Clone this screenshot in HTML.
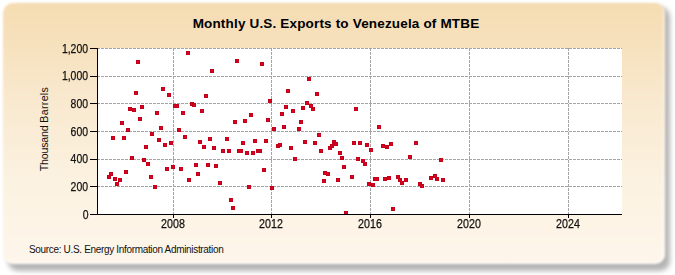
<!DOCTYPE html>
<html><head><meta charset="utf-8"><style>
html,body{margin:0;padding:0;background:#fff;}
body{width:675px;height:275px;position:relative;overflow:hidden;font-family:"Liberation Sans",sans-serif;}
.panel{position:absolute;left:3px;top:3px;width:661.5px;height:261px;border-radius:10px;
background:linear-gradient(to bottom,#f5dcb1 0%,#f9e9cf 38%,#fcf2e1 68%,#fef6eb 100%);
box-shadow:inset -2px -2px 2px rgba(255,255,255,0.5);filter:blur(0.8px);}
.shadow{position:absolute;left:8px;top:7px;width:662px;height:263.5px;border-radius:10px;background:rgba(0,0,0,0.29);filter:blur(2.5px);}
svg{position:absolute;left:0;top:0;}
.title{position:absolute;left:-1.5px;width:675px;top:16.2px;text-align:center;font-size:13.5px;font-weight:bold;letter-spacing:0.17px;color:#000;line-height:16px;}
.yl{position:absolute;right:586.8px;-webkit-text-stroke:0.25px #111;font-size:12px;color:#111;line-height:14px;text-align:right;white-space:nowrap;transform:scaleX(0.87);transform-origin:100% 50%;}
.xl{position:absolute;top:216.5px;-webkit-text-stroke:0.25px #111;width:40px;text-align:center;font-size:12px;color:#111;line-height:14px;transform:scaleX(0.89);}
.ytitle{position:absolute;left:44px;top:129.2px;transform:translate(-50%,-50%) rotate(-90deg);font-size:10.6px;color:#111;white-space:nowrap;line-height:12px;}
.src{position:absolute;left:29px;top:243.7px;font-size:10px;letter-spacing:-0.33px;color:#111;white-space:nowrap;line-height:12px;}
</style></head><body>
<div class="shadow"></div>
<div class="panel"></div>
<div class="title">Monthly U.S. Exports to Venezuela of MTBE</div>
<svg width="675" height="275" viewBox="0 0 675 275" shape-rendering="crispEdges">
<rect x="97" y="48" width="525" height="166" fill="#ffffff"/>
<line x1="97" y1="186.5" x2="622" y2="186.5" stroke="#a4a4a4" stroke-width="1" stroke-dasharray="3,1"/>
<line x1="97" y1="159.5" x2="622" y2="159.5" stroke="#a4a4a4" stroke-width="1" stroke-dasharray="3,1"/>
<line x1="97" y1="131.5" x2="622" y2="131.5" stroke="#a4a4a4" stroke-width="1" stroke-dasharray="3,1"/>
<line x1="97" y1="103.5" x2="622" y2="103.5" stroke="#a4a4a4" stroke-width="1" stroke-dasharray="3,1"/>
<line x1="97" y1="76.5" x2="622" y2="76.5" stroke="#a4a4a4" stroke-width="1" stroke-dasharray="3,1"/>
<line x1="97" y1="48.5" x2="622" y2="48.5" stroke="#a4a4a4" stroke-width="1" stroke-dasharray="3,1"/>
<line x1="173.5" y1="48" x2="173.5" y2="214" stroke="#a4a4a4" stroke-width="1" stroke-dasharray="3,1"/>
<line x1="271.5" y1="48" x2="271.5" y2="214" stroke="#a4a4a4" stroke-width="1" stroke-dasharray="3,1"/>
<line x1="370.5" y1="48" x2="370.5" y2="214" stroke="#a4a4a4" stroke-width="1" stroke-dasharray="3,1"/>
<line x1="469.5" y1="48" x2="469.5" y2="214" stroke="#a4a4a4" stroke-width="1" stroke-dasharray="3,1"/>
<line x1="568.5" y1="48" x2="568.5" y2="214" stroke="#a4a4a4" stroke-width="1" stroke-dasharray="3,1"/>
<rect x="136" y="60" width="4" height="4" fill="#c2001a"/><rect x="137" y="61" width="2" height="2" fill="#de0020"/>
<rect x="186" y="51" width="4" height="4" fill="#c2001a"/><rect x="187" y="52" width="2" height="2" fill="#de0020"/>
<rect x="134" y="91" width="4" height="4" fill="#c2001a"/><rect x="135" y="92" width="2" height="2" fill="#de0020"/>
<rect x="161" y="87" width="4" height="4" fill="#c2001a"/><rect x="162" y="88" width="2" height="2" fill="#de0020"/>
<rect x="167" y="93" width="4" height="4" fill="#c2001a"/><rect x="168" y="94" width="2" height="2" fill="#de0020"/>
<rect x="128" y="107" width="4" height="4" fill="#c2001a"/><rect x="129" y="108" width="2" height="2" fill="#de0020"/>
<rect x="132" y="108" width="4" height="4" fill="#c2001a"/><rect x="133" y="109" width="2" height="2" fill="#de0020"/>
<rect x="140" y="105" width="4" height="4" fill="#c2001a"/><rect x="141" y="106" width="2" height="2" fill="#de0020"/>
<rect x="155" y="111" width="4" height="4" fill="#c2001a"/><rect x="156" y="112" width="2" height="2" fill="#de0020"/>
<rect x="173" y="104" width="4" height="4" fill="#c2001a"/><rect x="174" y="105" width="2" height="2" fill="#de0020"/>
<rect x="175" y="104" width="4" height="4" fill="#c2001a"/><rect x="176" y="105" width="2" height="2" fill="#de0020"/>
<rect x="181" y="111" width="4" height="4" fill="#c2001a"/><rect x="182" y="112" width="2" height="2" fill="#de0020"/>
<rect x="120" y="121" width="4" height="4" fill="#c2001a"/><rect x="121" y="122" width="2" height="2" fill="#de0020"/>
<rect x="138" y="117" width="4" height="4" fill="#c2001a"/><rect x="139" y="118" width="2" height="2" fill="#de0020"/>
<rect x="159" y="126" width="4" height="4" fill="#c2001a"/><rect x="160" y="127" width="2" height="2" fill="#de0020"/>
<rect x="126" y="128" width="4" height="4" fill="#c2001a"/><rect x="127" y="129" width="2" height="2" fill="#de0020"/>
<rect x="177" y="128" width="4" height="4" fill="#c2001a"/><rect x="178" y="129" width="2" height="2" fill="#de0020"/>
<rect x="111" y="136" width="4" height="4" fill="#c2001a"/><rect x="112" y="137" width="2" height="2" fill="#de0020"/>
<rect x="122" y="136" width="4" height="4" fill="#c2001a"/><rect x="123" y="137" width="2" height="2" fill="#de0020"/>
<rect x="150" y="132" width="4" height="4" fill="#c2001a"/><rect x="151" y="133" width="2" height="2" fill="#de0020"/>
<rect x="183" y="135" width="4" height="4" fill="#c2001a"/><rect x="184" y="136" width="2" height="2" fill="#de0020"/>
<rect x="157" y="138" width="4" height="4" fill="#c2001a"/><rect x="158" y="139" width="2" height="2" fill="#de0020"/>
<rect x="163" y="143" width="4" height="4" fill="#c2001a"/><rect x="164" y="144" width="2" height="2" fill="#de0020"/>
<rect x="169" y="141" width="4" height="4" fill="#c2001a"/><rect x="170" y="142" width="2" height="2" fill="#de0020"/>
<rect x="144" y="145" width="4" height="4" fill="#c2001a"/><rect x="145" y="146" width="2" height="2" fill="#de0020"/>
<rect x="130" y="156" width="4" height="4" fill="#c2001a"/><rect x="131" y="157" width="2" height="2" fill="#de0020"/>
<rect x="142" y="158" width="4" height="4" fill="#c2001a"/><rect x="143" y="159" width="2" height="2" fill="#de0020"/>
<rect x="146" y="162" width="4" height="4" fill="#c2001a"/><rect x="147" y="163" width="2" height="2" fill="#de0020"/>
<rect x="109" y="172" width="4" height="4" fill="#c2001a"/><rect x="110" y="173" width="2" height="2" fill="#de0020"/>
<rect x="107" y="175" width="4" height="4" fill="#c2001a"/><rect x="108" y="176" width="2" height="2" fill="#de0020"/>
<rect x="113" y="177" width="4" height="4" fill="#c2001a"/><rect x="114" y="178" width="2" height="2" fill="#de0020"/>
<rect x="118" y="178" width="4" height="4" fill="#c2001a"/><rect x="119" y="179" width="2" height="2" fill="#de0020"/>
<rect x="115" y="182" width="4" height="4" fill="#c2001a"/><rect x="116" y="183" width="2" height="2" fill="#de0020"/>
<rect x="124" y="170" width="4" height="4" fill="#c2001a"/><rect x="125" y="171" width="2" height="2" fill="#de0020"/>
<rect x="149" y="175" width="4" height="4" fill="#c2001a"/><rect x="150" y="176" width="2" height="2" fill="#de0020"/>
<rect x="153" y="185" width="4" height="4" fill="#c2001a"/><rect x="154" y="186" width="2" height="2" fill="#de0020"/>
<rect x="165" y="167" width="4" height="4" fill="#c2001a"/><rect x="166" y="168" width="2" height="2" fill="#de0020"/>
<rect x="171" y="165" width="4" height="4" fill="#c2001a"/><rect x="172" y="166" width="2" height="2" fill="#de0020"/>
<rect x="179" y="167" width="4" height="4" fill="#c2001a"/><rect x="180" y="168" width="2" height="2" fill="#de0020"/>
<rect x="187" y="178" width="4" height="4" fill="#c2001a"/><rect x="188" y="179" width="2" height="2" fill="#de0020"/>
<rect x="235" y="59" width="4" height="4" fill="#c2001a"/><rect x="236" y="60" width="2" height="2" fill="#de0020"/>
<rect x="260" y="62" width="4" height="4" fill="#c2001a"/><rect x="261" y="63" width="2" height="2" fill="#de0020"/>
<rect x="210" y="69" width="4" height="4" fill="#c2001a"/><rect x="211" y="70" width="2" height="2" fill="#de0020"/>
<rect x="204" y="94" width="4" height="4" fill="#c2001a"/><rect x="205" y="95" width="2" height="2" fill="#de0020"/>
<rect x="268" y="99" width="4" height="4" fill="#c2001a"/><rect x="269" y="100" width="2" height="2" fill="#de0020"/>
<rect x="190" y="102" width="4" height="4" fill="#c2001a"/><rect x="191" y="103" width="2" height="2" fill="#de0020"/>
<rect x="192" y="103" width="4" height="4" fill="#c2001a"/><rect x="193" y="104" width="2" height="2" fill="#de0020"/>
<rect x="200" y="109" width="4" height="4" fill="#c2001a"/><rect x="201" y="110" width="2" height="2" fill="#de0020"/>
<rect x="233" y="120" width="4" height="4" fill="#c2001a"/><rect x="234" y="121" width="2" height="2" fill="#de0020"/>
<rect x="243" y="119" width="4" height="4" fill="#c2001a"/><rect x="244" y="120" width="2" height="2" fill="#de0020"/>
<rect x="249" y="113" width="4" height="4" fill="#c2001a"/><rect x="250" y="114" width="2" height="2" fill="#de0020"/>
<rect x="266" y="118" width="4" height="4" fill="#c2001a"/><rect x="267" y="119" width="2" height="2" fill="#de0020"/>
<rect x="272" y="127" width="4" height="4" fill="#c2001a"/><rect x="273" y="128" width="2" height="2" fill="#de0020"/>
<rect x="198" y="140" width="4" height="4" fill="#c2001a"/><rect x="199" y="141" width="2" height="2" fill="#de0020"/>
<rect x="208" y="137" width="4" height="4" fill="#c2001a"/><rect x="209" y="138" width="2" height="2" fill="#de0020"/>
<rect x="202" y="145" width="4" height="4" fill="#c2001a"/><rect x="203" y="146" width="2" height="2" fill="#de0020"/>
<rect x="212" y="146" width="4" height="4" fill="#c2001a"/><rect x="213" y="147" width="2" height="2" fill="#de0020"/>
<rect x="225" y="137" width="4" height="4" fill="#c2001a"/><rect x="226" y="138" width="2" height="2" fill="#de0020"/>
<rect x="221" y="149" width="4" height="4" fill="#c2001a"/><rect x="222" y="150" width="2" height="2" fill="#de0020"/>
<rect x="227" y="149" width="4" height="4" fill="#c2001a"/><rect x="228" y="150" width="2" height="2" fill="#de0020"/>
<rect x="237" y="149" width="4" height="4" fill="#c2001a"/><rect x="238" y="150" width="2" height="2" fill="#de0020"/>
<rect x="239" y="149" width="4" height="4" fill="#c2001a"/><rect x="240" y="150" width="2" height="2" fill="#de0020"/>
<rect x="241" y="141" width="4" height="4" fill="#c2001a"/><rect x="242" y="142" width="2" height="2" fill="#de0020"/>
<rect x="245" y="151" width="4" height="4" fill="#c2001a"/><rect x="246" y="152" width="2" height="2" fill="#de0020"/>
<rect x="251" y="151" width="4" height="4" fill="#c2001a"/><rect x="252" y="152" width="2" height="2" fill="#de0020"/>
<rect x="253" y="139" width="4" height="4" fill="#c2001a"/><rect x="254" y="140" width="2" height="2" fill="#de0020"/>
<rect x="256" y="149" width="4" height="4" fill="#c2001a"/><rect x="257" y="150" width="2" height="2" fill="#de0020"/>
<rect x="258" y="149" width="4" height="4" fill="#c2001a"/><rect x="259" y="150" width="2" height="2" fill="#de0020"/>
<rect x="264" y="139" width="4" height="4" fill="#c2001a"/><rect x="265" y="140" width="2" height="2" fill="#de0020"/>
<rect x="194" y="163" width="4" height="4" fill="#c2001a"/><rect x="195" y="164" width="2" height="2" fill="#de0020"/>
<rect x="206" y="163" width="4" height="4" fill="#c2001a"/><rect x="207" y="164" width="2" height="2" fill="#de0020"/>
<rect x="214" y="164" width="4" height="4" fill="#c2001a"/><rect x="215" y="165" width="2" height="2" fill="#de0020"/>
<rect x="196" y="172" width="4" height="4" fill="#c2001a"/><rect x="197" y="173" width="2" height="2" fill="#de0020"/>
<rect x="218" y="181" width="4" height="4" fill="#c2001a"/><rect x="219" y="182" width="2" height="2" fill="#de0020"/>
<rect x="247" y="185" width="4" height="4" fill="#c2001a"/><rect x="248" y="186" width="2" height="2" fill="#de0020"/>
<rect x="262" y="168" width="4" height="4" fill="#c2001a"/><rect x="263" y="169" width="2" height="2" fill="#de0020"/>
<rect x="270" y="186" width="4" height="4" fill="#c2001a"/><rect x="271" y="187" width="2" height="2" fill="#de0020"/>
<rect x="229" y="198" width="4" height="4" fill="#c2001a"/><rect x="230" y="199" width="2" height="2" fill="#de0020"/>
<rect x="231" y="206" width="4" height="4" fill="#c2001a"/><rect x="232" y="207" width="2" height="2" fill="#de0020"/>
<rect x="307" y="77" width="4" height="4" fill="#c2001a"/><rect x="308" y="78" width="2" height="2" fill="#de0020"/>
<rect x="286" y="89" width="4" height="4" fill="#c2001a"/><rect x="287" y="90" width="2" height="2" fill="#de0020"/>
<rect x="315" y="92" width="4" height="4" fill="#c2001a"/><rect x="316" y="93" width="2" height="2" fill="#de0020"/>
<rect x="305" y="101" width="4" height="4" fill="#c2001a"/><rect x="306" y="102" width="2" height="2" fill="#de0020"/>
<rect x="309" y="104" width="4" height="4" fill="#c2001a"/><rect x="310" y="105" width="2" height="2" fill="#de0020"/>
<rect x="311" y="107" width="4" height="4" fill="#c2001a"/><rect x="312" y="108" width="2" height="2" fill="#de0020"/>
<rect x="301" y="106" width="4" height="4" fill="#c2001a"/><rect x="302" y="107" width="2" height="2" fill="#de0020"/>
<rect x="284" y="105" width="4" height="4" fill="#c2001a"/><rect x="285" y="106" width="2" height="2" fill="#de0020"/>
<rect x="291" y="109" width="4" height="4" fill="#c2001a"/><rect x="292" y="110" width="2" height="2" fill="#de0020"/>
<rect x="280" y="112" width="4" height="4" fill="#c2001a"/><rect x="281" y="113" width="2" height="2" fill="#de0020"/>
<rect x="299" y="120" width="4" height="4" fill="#c2001a"/><rect x="300" y="121" width="2" height="2" fill="#de0020"/>
<rect x="282" y="125" width="4" height="4" fill="#c2001a"/><rect x="283" y="126" width="2" height="2" fill="#de0020"/>
<rect x="297" y="127" width="4" height="4" fill="#c2001a"/><rect x="298" y="128" width="2" height="2" fill="#de0020"/>
<rect x="354" y="107" width="4" height="4" fill="#c2001a"/><rect x="355" y="108" width="2" height="2" fill="#de0020"/>
<rect x="317" y="133" width="4" height="4" fill="#c2001a"/><rect x="318" y="134" width="2" height="2" fill="#de0020"/>
<rect x="303" y="140" width="4" height="4" fill="#c2001a"/><rect x="304" y="141" width="2" height="2" fill="#de0020"/>
<rect x="313" y="141" width="4" height="4" fill="#c2001a"/><rect x="314" y="142" width="2" height="2" fill="#de0020"/>
<rect x="276" y="144" width="4" height="4" fill="#c2001a"/><rect x="277" y="145" width="2" height="2" fill="#de0020"/>
<rect x="278" y="143" width="4" height="4" fill="#c2001a"/><rect x="279" y="144" width="2" height="2" fill="#de0020"/>
<rect x="289" y="146" width="4" height="4" fill="#c2001a"/><rect x="290" y="147" width="2" height="2" fill="#de0020"/>
<rect x="319" y="149" width="4" height="4" fill="#c2001a"/><rect x="320" y="150" width="2" height="2" fill="#de0020"/>
<rect x="328" y="146" width="4" height="4" fill="#c2001a"/><rect x="329" y="147" width="2" height="2" fill="#de0020"/>
<rect x="330" y="144" width="4" height="4" fill="#c2001a"/><rect x="331" y="145" width="2" height="2" fill="#de0020"/>
<rect x="332" y="140" width="4" height="4" fill="#c2001a"/><rect x="333" y="141" width="2" height="2" fill="#de0020"/>
<rect x="334" y="142" width="4" height="4" fill="#c2001a"/><rect x="335" y="143" width="2" height="2" fill="#de0020"/>
<rect x="338" y="151" width="4" height="4" fill="#c2001a"/><rect x="339" y="152" width="2" height="2" fill="#de0020"/>
<rect x="352" y="141" width="4" height="4" fill="#c2001a"/><rect x="353" y="142" width="2" height="2" fill="#de0020"/>
<rect x="358" y="141" width="4" height="4" fill="#c2001a"/><rect x="359" y="142" width="2" height="2" fill="#de0020"/>
<rect x="365" y="143" width="4" height="4" fill="#c2001a"/><rect x="366" y="144" width="2" height="2" fill="#de0020"/>
<rect x="369" y="148" width="4" height="4" fill="#c2001a"/><rect x="370" y="149" width="2" height="2" fill="#de0020"/>
<rect x="293" y="157" width="4" height="4" fill="#c2001a"/><rect x="294" y="158" width="2" height="2" fill="#de0020"/>
<rect x="340" y="156" width="4" height="4" fill="#c2001a"/><rect x="341" y="157" width="2" height="2" fill="#de0020"/>
<rect x="356" y="157" width="4" height="4" fill="#c2001a"/><rect x="357" y="158" width="2" height="2" fill="#de0020"/>
<rect x="361" y="159" width="4" height="4" fill="#c2001a"/><rect x="362" y="160" width="2" height="2" fill="#de0020"/>
<rect x="363" y="162" width="4" height="4" fill="#c2001a"/><rect x="364" y="163" width="2" height="2" fill="#de0020"/>
<rect x="342" y="165" width="4" height="4" fill="#c2001a"/><rect x="343" y="166" width="2" height="2" fill="#de0020"/>
<rect x="323" y="171" width="4" height="4" fill="#c2001a"/><rect x="324" y="172" width="2" height="2" fill="#de0020"/>
<rect x="326" y="172" width="4" height="4" fill="#c2001a"/><rect x="327" y="173" width="2" height="2" fill="#de0020"/>
<rect x="322" y="179" width="4" height="4" fill="#c2001a"/><rect x="323" y="180" width="2" height="2" fill="#de0020"/>
<rect x="336" y="178" width="4" height="4" fill="#c2001a"/><rect x="337" y="179" width="2" height="2" fill="#de0020"/>
<rect x="350" y="175" width="4" height="4" fill="#c2001a"/><rect x="351" y="176" width="2" height="2" fill="#de0020"/>
<rect x="367" y="182" width="4" height="4" fill="#c2001a"/><rect x="368" y="183" width="2" height="2" fill="#de0020"/>
<rect x="344" y="211" width="4" height="4" fill="#c2001a"/><rect x="345" y="212" width="2" height="2" fill="#de0020"/>
<rect x="377" y="125" width="4" height="4" fill="#c2001a"/><rect x="378" y="126" width="2" height="2" fill="#de0020"/>
<rect x="381" y="144" width="4" height="4" fill="#c2001a"/><rect x="382" y="145" width="2" height="2" fill="#de0020"/>
<rect x="385" y="145" width="4" height="4" fill="#c2001a"/><rect x="386" y="146" width="2" height="2" fill="#de0020"/>
<rect x="389" y="142" width="4" height="4" fill="#c2001a"/><rect x="390" y="143" width="2" height="2" fill="#de0020"/>
<rect x="414" y="141" width="4" height="4" fill="#c2001a"/><rect x="415" y="142" width="2" height="2" fill="#de0020"/>
<rect x="408" y="155" width="4" height="4" fill="#c2001a"/><rect x="409" y="156" width="2" height="2" fill="#de0020"/>
<rect x="439" y="158" width="4" height="4" fill="#c2001a"/><rect x="440" y="159" width="2" height="2" fill="#de0020"/>
<rect x="371" y="183" width="4" height="4" fill="#c2001a"/><rect x="372" y="184" width="2" height="2" fill="#de0020"/>
<rect x="373" y="177" width="4" height="4" fill="#c2001a"/><rect x="374" y="178" width="2" height="2" fill="#de0020"/>
<rect x="375" y="177" width="4" height="4" fill="#c2001a"/><rect x="376" y="178" width="2" height="2" fill="#de0020"/>
<rect x="383" y="177" width="4" height="4" fill="#c2001a"/><rect x="384" y="178" width="2" height="2" fill="#de0020"/>
<rect x="387" y="176" width="4" height="4" fill="#c2001a"/><rect x="388" y="177" width="2" height="2" fill="#de0020"/>
<rect x="396" y="175" width="4" height="4" fill="#c2001a"/><rect x="397" y="176" width="2" height="2" fill="#de0020"/>
<rect x="398" y="178" width="4" height="4" fill="#c2001a"/><rect x="399" y="179" width="2" height="2" fill="#de0020"/>
<rect x="400" y="181" width="4" height="4" fill="#c2001a"/><rect x="401" y="182" width="2" height="2" fill="#de0020"/>
<rect x="404" y="178" width="4" height="4" fill="#c2001a"/><rect x="405" y="179" width="2" height="2" fill="#de0020"/>
<rect x="418" y="182" width="4" height="4" fill="#c2001a"/><rect x="419" y="183" width="2" height="2" fill="#de0020"/>
<rect x="420" y="184" width="4" height="4" fill="#c2001a"/><rect x="421" y="185" width="2" height="2" fill="#de0020"/>
<rect x="429" y="176" width="4" height="4" fill="#c2001a"/><rect x="430" y="177" width="2" height="2" fill="#de0020"/>
<rect x="433" y="174" width="4" height="4" fill="#c2001a"/><rect x="434" y="175" width="2" height="2" fill="#de0020"/>
<rect x="435" y="177" width="4" height="4" fill="#c2001a"/><rect x="436" y="178" width="2" height="2" fill="#de0020"/>
<rect x="441" y="178" width="4" height="4" fill="#c2001a"/><rect x="442" y="179" width="2" height="2" fill="#de0020"/>
<rect x="391" y="207" width="4" height="4" fill="#c2001a"/><rect x="392" y="208" width="2" height="2" fill="#de0020"/>
<line x1="97.5" y1="48" x2="97.5" y2="215" stroke="#000" stroke-width="1"/>
<line x1="97" y1="214.5" x2="622" y2="214.5" stroke="#000" stroke-width="1"/>
<line x1="90" y1="214.5" x2="97" y2="214.5" stroke="#000" stroke-width="1"/>
<line x1="90" y1="186.5" x2="97" y2="186.5" stroke="#000" stroke-width="1"/>
<line x1="90" y1="159.5" x2="97" y2="159.5" stroke="#000" stroke-width="1"/>
<line x1="90" y1="131.5" x2="97" y2="131.5" stroke="#000" stroke-width="1"/>
<line x1="90" y1="103.5" x2="97" y2="103.5" stroke="#000" stroke-width="1"/>
<line x1="90" y1="76.5" x2="97" y2="76.5" stroke="#000" stroke-width="1"/>
<line x1="90" y1="48.5" x2="97" y2="48.5" stroke="#000" stroke-width="1"/>
<line x1="173.5" y1="214" x2="173.5" y2="218" stroke="#000" stroke-width="1"/>
<line x1="271.5" y1="214" x2="271.5" y2="218" stroke="#000" stroke-width="1"/>
<line x1="370.5" y1="214" x2="370.5" y2="218" stroke="#000" stroke-width="1"/>
<line x1="469.5" y1="214" x2="469.5" y2="218" stroke="#000" stroke-width="1"/>
<line x1="568.5" y1="214" x2="568.5" y2="218" stroke="#000" stroke-width="1"/>
</svg>
<div class="yl" style="top:207.6px">0</div>
<div class="yl" style="top:179.9px">200</div>
<div class="yl" style="top:152.3px">400</div>
<div class="yl" style="top:124.6px">600</div>
<div class="yl" style="top:96.9px">800</div>
<div class="yl" style="top:69.3px">1,000</div>
<div class="yl" style="top:41.6px">1,200</div>
<div class="xl" style="left:153px">2008</div>
<div class="xl" style="left:251px">2012</div>
<div class="xl" style="left:350px">2016</div>
<div class="xl" style="left:449px">2020</div>
<div class="xl" style="left:548px">2024</div>
<div class="ytitle"><span style="letter-spacing:-0.2px">Thousand</span> <span style="letter-spacing:0.33px">Barrels</span></div>
<div class="src">Source: U.S. Energy Information Administration</div>
</body></html>
